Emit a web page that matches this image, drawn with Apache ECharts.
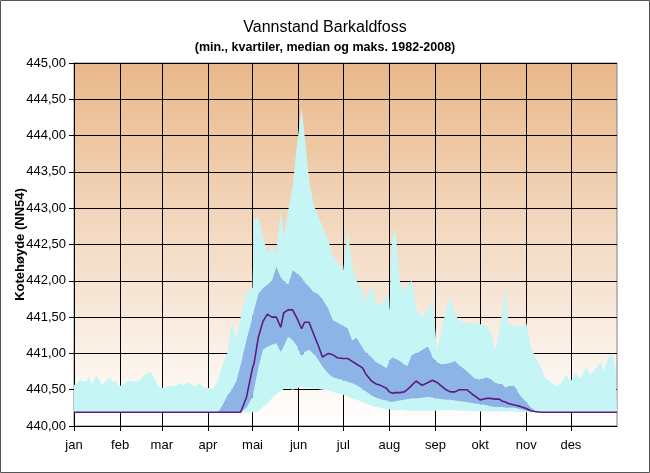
<!DOCTYPE html>
<html><head><meta charset="utf-8">
<script src="https://cdn.jsdelivr.net/npm/echarts@6/dist/echarts.min.js"></script>
<style>html,body{margin:0;padding:0;background:#fff}#c{width:650px;height:473px}</style>
</head><body><div id="c"></div>
<script>
// ---- data ----
const monthNames = ['jan','feb','mar','apr','mai','jun','jul','aug','sep','okt','nov','des'];
const monthStarts = [0,31,59,90,120,151,181,212,243,273,304,334];
const yMin = 440, yMax = 445, yStep = 0.5;

const days = [0,4,8,10,12,15,17,19,21,24,26,28,30,34,37,40,44,47,49,52,54,57,60,64,67,71,74,77,81,84,87,91,
  94,97,100,103,106,109,112,116,120,121,
  124,127,130,133,136,139,141,144,147,150,
  153,155,158,161,164,167,171,174,177,181,
  184,187,190,194,196,200,203,206,210,212,
  214,216,219,222,224,227,230,234,238,241,
  244,247,250,253,256,259,264,269,273,277,
  280,283,286,288,290,292,296,300,304,307,
  310,314,317,321,324,327,331,334,337,341,
  344,347,351,354,356,359,362,364,365];

const maxV = [440.56,440.63,440.61,440.68,440.59,440.70,440.63,440.56,440.61,440.66,440.61,440.63,440.54,440.59,440.63,440.61,440.63,440.70,440.73,440.74,440.65,440.54,440.52,440.56,440.54,440.59,440.56,440.61,440.54,440.59,440.54,440.52,
  440.52,440.65,440.85,441.0,441.42,441.2,441.5,441.85,441.9,442.85,
  442.88,442.6,442.4,442.45,442.4,442.97,442.6,442.97,443.3,443.9,
  444.38,444.0,443.4,443.05,442.9,442.75,442.55,442.35,442.25,442.15,
  442.7,442.2,442.0,441.85,441.7,441.95,441.7,441.65,441.8,441.6,
  442.6,442.72,442.0,441.85,441.95,442.0,441.6,441.5,441.6,441.75,
  441.05,441.3,441.6,441.78,441.55,441.45,441.42,441.42,441.4,441.38,
  441.3,441.05,441.3,441.6,441.97,441.4,441.38,441.36,441.42,441.1,
  440.95,440.8,440.65,440.6,440.55,440.58,440.7,440.62,440.72,440.66,
  440.82,440.7,440.8,440.88,440.75,440.95,441.0,440.78,440.8];

const q3V = [440.19,440.19,440.19,440.19,440.19,440.19,440.19,440.19,440.19,440.19,440.19,440.19,440.19,440.19,440.19,440.19,440.19,440.19,440.19,440.19,440.19,440.19,440.19,440.19,440.19,440.19,440.19,440.19,440.19,440.19,440.19,440.19,
  440.19,440.2,440.3,440.42,440.5,440.62,440.85,441.2,441.5,441.6,
  441.83,441.9,441.95,442.0,442.2,442.05,442.0,441.95,442.15,442.1,
  442.05,441.98,441.92,441.85,441.82,441.75,441.62,441.46,441.43,441.38,
  441.35,441.18,441.22,441.08,441.02,440.95,440.88,440.85,440.8,440.9,
  440.95,440.93,440.9,440.85,440.83,440.98,441.0,441.05,441.1,440.95,
  440.88,440.85,440.86,440.87,440.9,440.84,440.76,440.66,440.64,440.67,
  440.65,440.6,440.58,440.58,440.53,440.55,440.55,440.42,440.33,440.26,
  440.21,440.19,440.19,440.19,440.19,440.19,440.19,440.19,440.19,440.19,
  440.19,440.19,440.19,440.19,440.19,440.19,440.19,440.19,440.19];

const medV = [440.19,440.19,440.19,440.19,440.19,440.19,440.19,440.19,440.19,440.19,440.19,440.19,440.19,440.19,440.19,440.19,440.19,440.19,440.19,440.19,440.19,440.19,440.19,440.19,440.19,440.19,440.19,440.19,440.19,440.19,440.19,440.19,
  440.19,440.19,440.19,440.19,440.19,440.19,440.19,440.4,440.8,440.86,
  441.23,441.44,441.54,441.5,441.5,441.36,441.56,441.6,441.6,441.48,
  441.34,441.43,441.43,441.27,441.12,440.95,441.0,440.98,440.94,440.93,
  440.93,440.89,440.85,440.8,440.72,440.62,440.58,440.56,440.52,440.47,
  440.45,440.46,440.46,440.47,440.5,440.56,440.62,440.56,440.6,440.63,
  440.6,440.55,440.5,440.47,440.47,440.5,440.5,440.42,440.36,440.38,
  440.38,440.37,440.37,440.34,440.33,440.31,440.29,440.27,440.24,440.21,
  440.2,440.19,440.19,440.19,440.19,440.19,440.19,440.19,440.19,440.19,
  440.19,440.19,440.19,440.19,440.19,440.19,440.19,440.19,440.19];

const q1V = [440.19,440.19,440.19,440.19,440.19,440.19,440.19,440.19,440.19,440.19,440.19,440.19,440.19,440.19,440.19,440.19,440.19,440.19,440.19,440.19,440.19,440.19,440.19,440.19,440.19,440.19,440.19,440.19,440.19,440.19,440.19,440.19,
  440.19,440.19,440.19,440.19,440.19,440.19,440.19,440.25,440.4,440.5,
  440.81,441.05,441.09,441.12,441.14,441.02,441.1,441.23,441.18,441.1,
  440.96,441.02,441.05,441.0,440.92,440.82,440.72,440.67,440.65,440.63,
  440.61,440.59,440.56,440.51,440.48,440.42,440.39,440.37,440.35,440.34,
  440.33,440.34,440.35,440.36,440.37,440.38,440.38,440.39,440.4,440.39,
  440.38,440.37,440.36,440.36,440.35,440.34,440.33,440.31,440.3,440.29,
  440.27,440.26,440.26,440.26,440.25,440.25,440.25,440.23,440.21,440.2,
  440.19,440.19,440.19,440.19,440.19,440.19,440.19,440.19,440.19,440.19,
  440.19,440.19,440.19,440.19,440.19,440.19,440.19,440.19,440.19];

const minV = [440.19,440.19,440.19,440.19,440.19,440.19,440.19,440.19,440.19,440.19,440.19,440.19,440.19,440.19,440.19,440.19,440.19,440.19,440.19,440.19,440.19,440.19,440.19,440.19,440.19,440.19,440.19,440.19,440.19,440.19,440.19,440.19,
  440.19,440.19,440.19,440.19,440.19,440.19,440.19,440.19,440.19,440.19,
  440.2,440.26,440.31,440.38,440.44,440.48,440.51,440.52,440.5,440.52,
  440.54,440.53,440.52,440.52,440.51,440.5,440.49,440.47,440.45,440.43,
  440.41,440.38,440.36,440.33,440.31,440.28,440.26,440.25,440.23,440.23,
  440.22,440.22,440.22,440.22,440.21,440.21,440.21,440.21,440.21,440.21,
  440.21,440.22,440.22,440.22,440.22,440.21,440.21,440.21,440.2,440.2,
  440.2,440.2,440.2,440.2,440.2,440.2,440.2,440.19,440.19,440.19,
  440.19,440.19,440.19,440.19,440.19,440.19,440.19,440.19,440.19,440.19,
  440.19,440.19,440.19,440.19,440.19,440.19,440.19,440.19,440.19];

// ---- chart ----
const FONT = '"Liberation Sans", Arial, sans-serif';
const dayCats = Array.from({length: 366}, (_, i) => String(i));
const isMonthStart = (idx) => monthStarts.indexOf(idx) >= 0;
const pair = (arr) => days.map((d, i) => [d, arr[i]]);
const delta = (hi, lo) => days.map((d, i) => [d, +(hi[i] - lo[i]).toFixed(4)]);
const CYAN = '#C6F5F5', BLUE = '#8DB4E6', PURPLE = '#5E1A80';

const chart = echarts.init(document.getElementById('c'));
chart.setOption({
  animation: false,
  backgroundColor: '#fff',
  textStyle: {fontFamily: FONT},
  title: [
    {text: 'Vannstand Barkaldfoss', left: 'center', top: 15,
     textStyle: {fontSize: 16, fontWeight: 'normal', color: '#000', fontFamily: FONT}},
    {text: '(min., kvartiler, median og maks. 1982-2008)', left: 'center', top: 36,
     textStyle: {fontSize: 12.5, fontWeight: 'bold', color: '#000', fontFamily: FONT}}
  ],
  graphic: [{type: 'rect', shape: {x: 0.5, y: 0.5, width: 649, height: 472},
    style: {fill: 'none', stroke: '#555', lineWidth: 1}, silent: true, z: 100}],
  grid: {left: 74, right: 33, top: 63, bottom: 47, show: true, containLabel: false, outerBoundsMode: 'none',
    borderColor: '#808080', borderWidth: 1,
    backgroundColor: {type: 'linear', x: 0, y: 0, x2: 0, y2: 1,
      colorStops: [{offset: 0, color: '#E9B88A'}, {offset: 1, color: '#FFFFFF'}]}},
  xAxis: {
    type: 'category', data: dayCats, boundaryGap: false,
    axisLine: {lineStyle: {color: '#000', width: 1}},
    axisTick: {show: true, interval: (i) => isMonthStart(i), length: 5, lineStyle: {color: '#000'}},
    axisLabel: {interval: (i) => isMonthStart(i), margin: 13, color: '#000', fontSize: 13, fontFamily: FONT,
      formatter: (v) => { const k = monthStarts.indexOf(Number(v)); return k >= 0 ? monthNames[k] : ''; }},
    splitLine: {show: true, interval: (i) => isMonthStart(i) && i > 0, lineStyle: {color: '#000', width: 1}}
  },
  yAxis: {
    type: 'value', min: yMin, max: yMax, interval: yStep,
    name: 'Kotehøyde (NN54)', nameLocation: 'middle', nameGap: 47, nameRotate: 90, nameMoveOverlap: false,
    nameTextStyle: {fontSize: 13, fontWeight: 'bold', color: '#000', fontFamily: FONT},
    axisLine: {show: true, lineStyle: {color: '#000', width: 1}},
    axisTick: {show: true, length: 5, lineStyle: {color: '#000'}},
    axisLabel: {margin: 8, color: '#000', fontSize: 13, fontFamily: FONT,
      formatter: (v) => v.toFixed(2).replace('.', ',')},
    splitLine: {show: true, lineStyle: {color: '#000', width: 1}}
  },
  series: [
    {type: 'line', name: 'min', stack: 'band', stackStrategy: 'all', data: pair(minV), symbol: 'none',
     lineStyle: {opacity: 0}, silent: true},
    {type: 'line', name: 'min-q1', stack: 'band', stackStrategy: 'all', data: delta(q1V, minV), symbol: 'none',
     lineStyle: {opacity: 0}, areaStyle: {color: CYAN, opacity: 1}, silent: true},
    {type: 'line', name: 'q1-q3', stack: 'band', stackStrategy: 'all', data: delta(q3V, q1V), symbol: 'none',
     lineStyle: {opacity: 0}, areaStyle: {color: BLUE, opacity: 1}, silent: true},
    {type: 'line', name: 'q3-max', stack: 'band', stackStrategy: 'all', data: delta(maxV, q3V), symbol: 'none',
     lineStyle: {opacity: 0}, areaStyle: {color: CYAN, opacity: 1}, silent: true},
    {type: 'line', name: 'median', data: pair(medV), symbol: 'none', z: 5,
     lineStyle: {color: PURPLE, width: 1.6}, silent: true}
  ]
});
</script>
</body></html>
